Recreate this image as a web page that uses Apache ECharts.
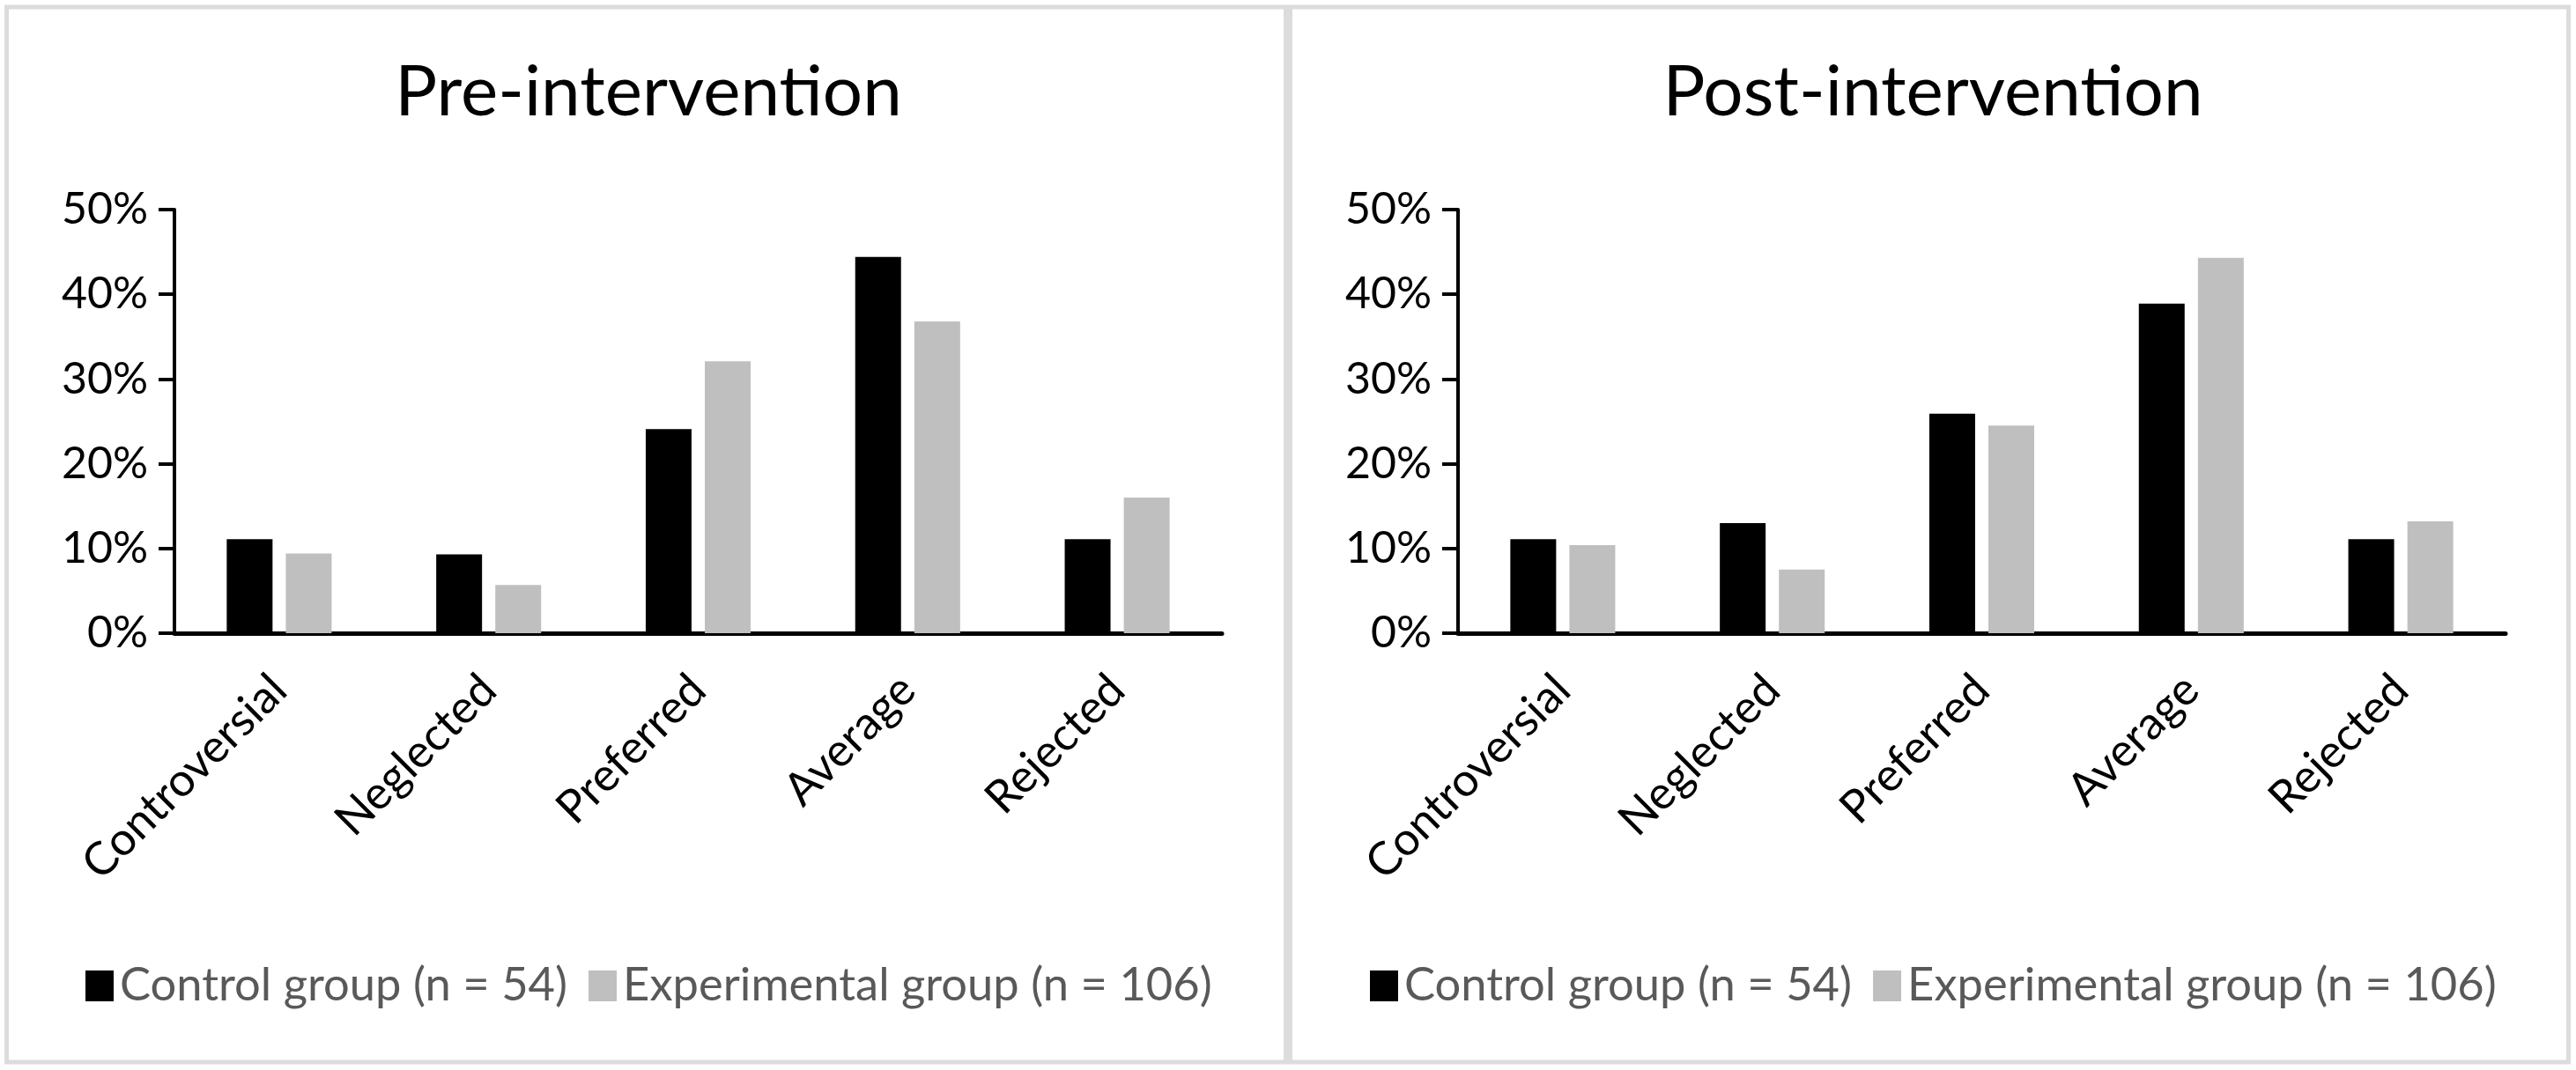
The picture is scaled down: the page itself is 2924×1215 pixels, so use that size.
<!DOCTYPE html>
<html>
<head>
<meta charset="utf-8">
<script src="https://cdn.jsdelivr.net/npm/echarts@6/dist/echarts.min.js"></script>
<style>
html,body{margin:0;padding:0;background:#fff;}
#c{width:2924px;height:1215px;}
</style>
</head>
<body>
<div id="c"></div>
<script>
const categories = ['Controversial', 'Neglected', 'Preferred', 'Average', 'Rejected'];
const seriesNames = ['Control group (n = 54)', 'Experimental group (n = 106)'];
const panelTitles = ['Pre-intervention', 'Post-intervention'];
const preControl = [11.1, 9.3, 24.1, 44.4, 11.1];
const preExperimental = [9.4, 5.7, 32.1, 36.8, 16.0];
const postControl = [11.1, 13.0, 25.9, 38.9, 11.1];
const postExperimental = [10.4, 7.5, 24.5, 44.3, 13.2];
const yTicks = {min: 0, max: 50, interval: 10};

const FONT = 'Lato';
const panels = [
  {title: panelTitles[0], control: preControl, exp: preExperimental, gridLeft: 198, panelX: 7.5, panelW: 1452, center: 731, legendLeft: 97},
  {title: panelTitles[1], control: postControl, exp: postExperimental, gridLeft: 1655, panelX: 1464.5, panelW: 1451, center: 2189, legendLeft: 1555}
];

const chart = echarts.init(document.getElementById('c'), null, {renderer: 'canvas'});

const option = {
  backgroundColor: '#ffffff',
  animation: false,
  title: panels.map(p => ({
    text: p.title,
    left: p.center,
    textAlign: 'center',
    top: 60,
    textStyle: {fontFamily: FONT, fontSize: 80, fontWeight: 'normal', color: '#000'}
  })),
  legend: panels.map(p => ({
    data: seriesNames,
    left: p.legendLeft,
    top: 1093,
    padding: 0,
    itemWidth: 32,
    itemHeight: 35,
    itemGap: 24,
    icon: 'rect',
    selectedMode: false,
    textStyle: {fontFamily: FONT, fontSize: 52.5, color: '#595959', padding: [0, 0, 0, 2]}
  })),
  grid: panels.map(p => ({left: p.gridLeft, top: 238, width: 1189, height: 481, containLabel: false})),
  xAxis: panels.map((p, i) => ({
    type: 'category',
    gridIndex: i,
    data: categories,
    axisLine: {lineStyle: {color: '#000', width: 5}},
    axisTick: {show: false},
    axisLabel: {rotate: 45, margin: 56, fontFamily: FONT, fontSize: 52, color: '#000', interval: 0}
  })),
  yAxis: panels.map((p, i) => ({
    type: 'value',
    gridIndex: i,
    min: yTicks.min,
    max: yTicks.max,
    interval: yTicks.interval,
    splitLine: {show: false},
    axisLine: {show: true, lineStyle: {color: '#000', width: 4}},
    axisTick: {show: true, length: 18, lineStyle: {color: '#000', width: 4}},
    axisLabel: {formatter: '{value}%', margin: 30, fontFamily: FONT, fontSize: 50, color: '#000'}
  })),
  series: panels.flatMap((p, i) => [
    {name: seriesNames[0], type: 'bar', xAxisIndex: i, yAxisIndex: i, data: p.control, barWidth: 52, barGap: '29%', itemStyle: {color: '#000000'}},
    {name: seriesNames[1], type: 'bar', xAxisIndex: i, yAxisIndex: i, data: p.exp, barWidth: 52, barGap: '29%', itemStyle: {color: '#bfbfbf'}}
  ]),
  graphic: panels.map(p => ({
    type: 'rect',
    shape: {x: p.panelX, y: 8, width: p.panelW, height: 1198},
    style: {fill: 'none', stroke: '#dcdcdc', lineWidth: 5},
    silent: true
  }))
};
chart.setOption(option);
</script>
</body>
</html>
